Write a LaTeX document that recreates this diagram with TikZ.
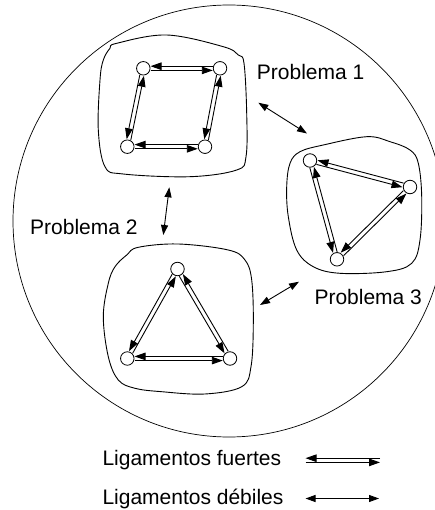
\documentclass[tikz,border=0pt]{standalone}
\usepackage{fontspec}
\setmainfont{Liberation Sans}
\usetikzlibrary{calc,arrows.meta}
\tikzset{
  vtx/.style={circle,draw,fill=white,minimum size=13.5pt,inner sep=0pt,line width=0.8pt},
  blob/.style={draw,line width=0.9pt},
  lbl/.style={font=\fontsize{21}{24}\selectfont,inner sep=0pt,anchor=base west},
  tipend/.style={-{Triangle[length=11pt,width=7.5pt]}},
  weak/.style={{Triangle[length=10pt,width=7pt]}-{Triangle[length=10pt,width=7pt]},line width=0.9pt},
  strongl/.style={tipend,line width=0.9pt,shorten <=7.2pt,shorten >=7.2pt},
  legstrong/.style={tipend,line width=0.9pt},
}
\newcommand{\strongarrow}[3][strongl]{%
  \draw[#1] ($(#3)!2.1pt!-90:(#2)$) -- ($(#2)!2.1pt!90:(#3)$);
  \draw[#1] ($(#2)!2.1pt!-90:(#3)$) -- ($(#3)!2.1pt!90:(#2)$);
}
\begin{document}
\begin{tikzpicture}[x=1pt,y=-1pt]
\useasboundingbox (0,0) rectangle (435,510);
\begin{scope}
  \clip (0,0) rectangle (435,510);
  \draw[line width=0.7pt] (229,221) circle[radius=216];
\end{scope}

% blobs
\draw[blob] plot[smooth cycle,tension=0.6] coordinates {
  (110,48.3) (116.7,43.3) (166.7,35) (223.3,46.7) (238.3,55) (244,63.3)
  (246.7,113.3) (246,156.7) (236.7,170) (190,176.7) (123.3,174) (105,166.7)
  (98.3,130) (100,80) (103.3,60)};
\draw[blob] plot[smooth cycle,tension=0.6] coordinates {
  (115,266.7) (126.7,255) (138.3,247.3) (178.3,244) (228.3,250) (245,260)
  (251.7,280) (253.3,323.3) (251,366.7) (241.7,386.7) (205,394) (161.7,391.7)
  (135,388.3) (118.3,380) (108.3,356.7) (103.3,316.7) (108.3,283.3)};
\draw[blob] plot[smooth cycle,tension=0.6] coordinates {
  (290,163.3) (300,151.7) (323.3,145) (366.7,136.7) (390,141.7) (410,150)
  (418.3,163.3) (421.7,196.7) (420,240) (411.7,263.3) (386.7,271.7) (340,273.3)
  (313.3,266.7) (296.7,250) (288.3,216.7) (286.7,186.7)};

% nodes
\node[vtx] (n1a) at (143.3,68.3) {};
\node[vtx] (n1b) at (220,68.3) {};
\node[vtx] (n1c) at (127.3,146.7) {};
\node[vtx] (n1d) at (205,146.7) {};
\node[vtx] (n2a) at (177.5,269) {};
\node[vtx] (n2b) at (127.3,358.5) {};
\node[vtx] (n2c) at (230,358.5) {};
\node[vtx] (n3a) at (310,160.5) {};
\node[vtx] (n3b) at (410,187) {};
\node[vtx] (n3c) at (337,259.3) {};

% strong links
\strongarrow{n1a}{n1b}
\strongarrow{n1a}{n1c}
\strongarrow{n1b}{n1d}
\strongarrow{n1c}{n1d}
\strongarrow{n2a}{n2b}
\strongarrow{n2a}{n2c}
\strongarrow{n2b}{n2c}
\strongarrow{n3a}{n3b}
\strongarrow{n3a}{n3c}
\strongarrow{n3c}{n3b}

% weak links between problems
\coordinate (w1a) at (258.3,102.7);
\coordinate (w1b) at (307,133.5);
\coordinate (w2a) at (169.3,187.3);
\coordinate (w2b) at (163.3,235);
\coordinate (w3a) at (260,305);
\coordinate (w3b) at (299,281.7);
\draw[weak] (w1a) -- (w1b);
\draw[weak] (w2a) -- (w2b);
\draw[weak] (w3a) -- (w3b);

% labels
\node[lbl] (p1) at (256.7,79.3) {Problema 1};
\node[lbl] (p2) at (30,234.3) {Problema 2};
\node[lbl] (p3) at (314.3,304.3) {Problema 3};
\node[lbl] (lf) at (102.3,465) {Ligamentos fuertes};
\node[lbl] (ld) at (102.3,504) {Ligamentos débiles};

% legend arrows
\coordinate (lsA) at (305.5,460.3);
\coordinate (lsB) at (380,460.3);
\coordinate (lwA) at (305.5,498.5);
\coordinate (lwB) at (379,498.5);
\strongarrow[legstrong]{lsA}{lsB}
\draw[weak] (lwA) -- (lwB);
\end{tikzpicture}
\end{document}
